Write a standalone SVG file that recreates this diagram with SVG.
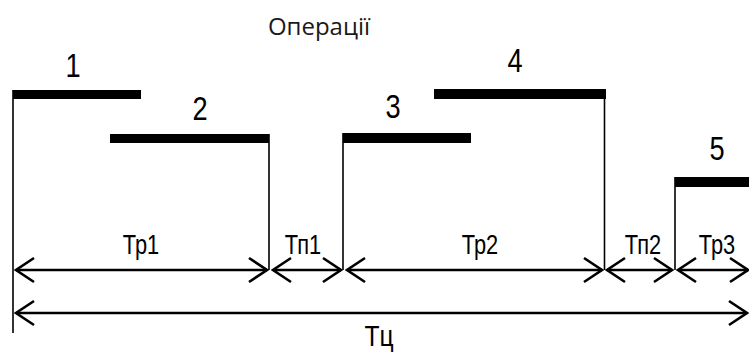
<svg xmlns="http://www.w3.org/2000/svg" width="749" height="353" viewBox="0 0 749 353">
<style>
.bar{fill:#000}
.vl{stroke:#000;stroke-width:1.6;fill:none}
.ar{stroke:#000;stroke-width:2.6;fill:none;marker-start:url(#ah);marker-end:url(#ah)}
.num{font-family:"Liberation Sans",Arial,sans-serif;font-size:34px;fill:#000;text-anchor:middle}
.lbl{font-family:"Liberation Sans",Arial,sans-serif;font-size:28px;fill:#000;text-anchor:middle}
.title{font-family:"Open Sans",sans-serif;font-size:24px;font-weight:400;fill:#1a1a1a;text-anchor:middle}
</style>
<defs>
<marker id="ah" viewBox="-20 -14 22 28" refX="0" refY="0" markerWidth="22" markerHeight="28" orient="auto-start-reverse" markerUnits="userSpaceOnUse">
<path d="M-18,-12 L0,0 L-18,12" fill="none" stroke="#000" stroke-width="2.6"/>
</marker>
</defs>
<text class="title" x="319" y="35">Операції</text>
<g id="op1">
<rect class="bar" x="13" y="90" width="128" height="9"/>
<g transform="translate(73,77) scale(0.8,1)"><text class="num" x="0" y="0">1</text></g>
</g>
<g id="op2">
<rect class="bar" x="110" y="134" width="159" height="9"/>
<g transform="translate(200,120) scale(0.8,1)"><text class="num" x="0" y="0">2</text></g>
</g>
<g id="op3">
<rect class="bar" x="343" y="133" width="128" height="10"/>
<g transform="translate(393,118) scale(0.8,1)"><text class="num" x="0" y="0">3</text></g>
</g>
<g id="op4">
<rect class="bar" x="434" y="89" width="172" height="10"/>
<g transform="translate(515,72) scale(0.8,1)"><text class="num" x="0" y="0">4</text></g>
</g>
<g id="op5">
<rect class="bar" x="675" y="177" width="74" height="10"/>
<g transform="translate(717,160) scale(0.8,1)"><text class="num" x="0" y="0">5</text></g>
</g>
<g id="connectors">
<line class="vl" x1="13" y1="90" x2="13" y2="333"/>
<line class="vl" x1="269" y1="134" x2="269" y2="270"/>
<line class="vl" x1="343" y1="133" x2="343" y2="270"/>
<line class="vl" x1="604.5" y1="89" x2="604.5" y2="270"/>
<line class="vl" x1="675" y1="177" x2="675" y2="270"/>
<line class="ar" x1="16" y1="270" x2="267" y2="270"/>
<line class="ar" x1="273" y1="270" x2="341" y2="270"/>
<line class="ar" x1="347" y1="270" x2="602" y2="270"/>
<line class="ar" x1="607" y1="270" x2="672" y2="270"/>
<line class="ar" x1="678" y1="270" x2="748" y2="270"/>
<line class="ar" x1="16" y1="313" x2="747" y2="313"/>
</g>
<g id="labels">
<g transform="translate(141,254) scale(0.78,1)"><text class="lbl" x="0" y="0">Тр1</text></g>
<g transform="translate(303,254) scale(0.78,1)"><text class="lbl" x="0" y="0">Тп1</text></g>
<g transform="translate(480,254) scale(0.78,1)"><text class="lbl" x="0" y="0">Тр2</text></g>
<g transform="translate(643,254) scale(0.78,1)"><text class="lbl" x="0" y="0">Тп2</text></g>
<g transform="translate(717,254) scale(0.78,1)"><text class="lbl" x="0" y="0">Тр3</text></g>
<g transform="translate(379,346) scale(0.85,1)"><text class="lbl" x="0" y="0" style="font-size:29px">Тц</text></g>
</g>
</svg>
